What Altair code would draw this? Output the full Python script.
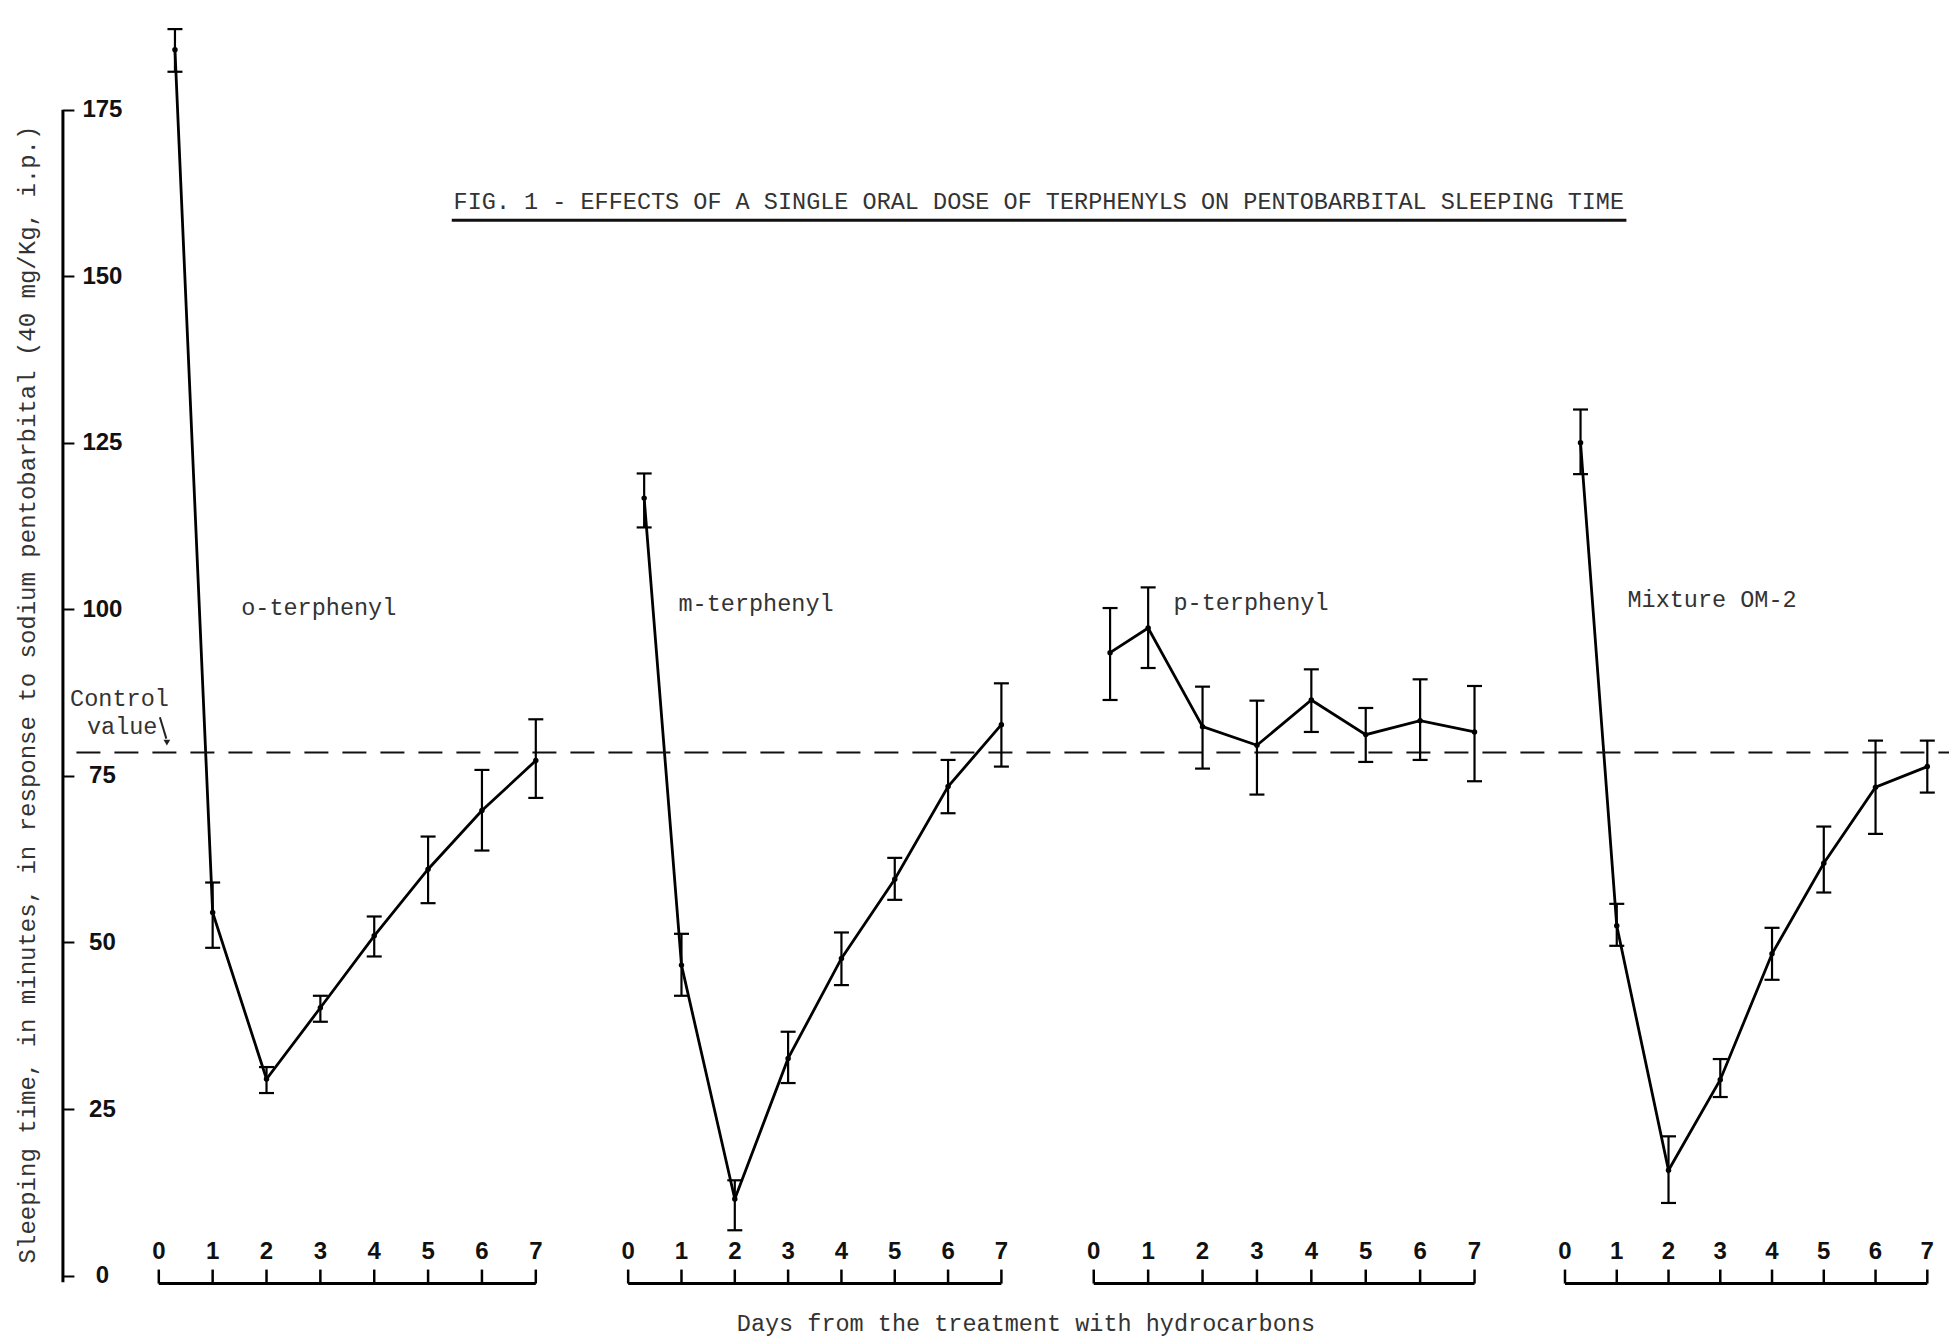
import altair as alt
import pandas as pd

# ---------------- data ----------------
panels = ["o-terphenyl", "m-terphenyl", "p-terphenyl", "Mixture OM-2"]
obs_days = [0.3, 1, 2, 3, 4, 5, 6, 7]
axis_days = [0, 1, 2, 3, 4, 5, 6, 7]

o_mean = [184.0, 54.5, 29.5, 40.2, 51.0, 61.0, 69.8, 77.3]
o_lo = [180.7, 49.2, 27.4, 38.1, 47.9, 55.9, 63.8, 71.7]
o_hi = [187.1, 59.0, 31.3, 42.0, 53.9, 65.9, 75.9, 83.5]

m_mean = [116.7, 46.6, 11.5, 32.6, 47.6, 59.5, 73.4, 82.7]
m_lo = [112.3, 42.0, 6.8, 28.9, 43.6, 56.4, 69.4, 76.4]
m_hi = [120.4, 51.3, 14.3, 36.6, 51.5, 62.7, 77.4, 88.9]

p_mean = [93.5, 97.2, 82.4, 79.6, 86.4, 81.2, 83.3, 81.6]
p_lo = [86.4, 91.2, 76.1, 72.2, 81.6, 77.1, 77.4, 74.2]
p_hi = [100.2, 103.3, 88.4, 86.3, 91.0, 85.2, 89.5, 88.5]

x_mean = [125.0, 52.5, 15.8, 29.4, 48.3, 61.9, 73.3, 76.4]
x_lo = [120.3, 49.5, 10.9, 26.8, 44.4, 57.5, 66.3, 72.5]
x_hi = [130.0, 55.8, 20.9, 32.5, 52.2, 67.4, 80.3, 80.3]

control_value = 78.5
y_ticks = [0, 25, 50, 75, 100, 125, 150, 175]

title_text = "FIG. 1 - EFFECTS OF A SINGLE ORAL DOSE OF TERPHENYLS ON PENTOBARBITAL SLEEPING TIME"
y_title = "Sleeping time, in minutes, in response to sodium pentobarbital (40 mg/Kg, i.p.)"
x_title = "Days from the treatment with hydrocarbons"

# ---------------- layout (panel placement on a shared day axis) ----------------
panel_offset = [0.0, 8.715, 17.36, 26.11]
panel_scale = [1.0, 0.99, 1.01, 0.961]

W, H = 1941, 1322
X_DOM = [-2.80, 33.24]
Y_DOM = [-8.17, 190.27]
xs = alt.Scale(domain=X_DOM, nice=False, zero=False)
ys = alt.Scale(domain=Y_DOM, nice=False, zero=False)

yaxis = alt.Axis(
    orient="right", offset=-1886.1, values=y_ticks, domain=False, grid=False,
    ticks=True, tickSize=11, tickWidth=2, tickColor="black",
    labelFont="Liberation Sans", labelFontSize=24, labelFontWeight="bold", labelColor="#111",
    labelAlign="center", labelBaseline="middle", labelPadding=28,
    title=y_title, titleFont="Liberation Mono", titleFontSize=24, titleFontWeight="normal",
    titleColor="#333", titleAngle=270, titleX=-35.4, titleY=686,
    titleAlign="center", titleBaseline="middle",
)


def X(f):
    return alt.X(f, type="quantitative", scale=xs, axis=None)


def Y(f):
    return alt.Y(f, type="quantitative", scale=ys, axis=yaxis, title=y_title)


series = [(o_mean, o_lo, o_hi), (m_mean, m_lo, m_hi), (p_mean, p_lo, p_hi), (x_mean, x_lo, x_hi)]
rows = []
for k, (mn, lo, hi) in enumerate(series):
    for d, a, b, c in zip(obs_days, mn, lo, hi):
        rows.append({"panel": panels[k], "day": d, "gx": panel_offset[k] + d * panel_scale[k],
                     "mean": a, "lo": b, "hi": c})
obs = pd.DataFrame(rows)

tick_rows, base_rows = [], []
for k in range(4):
    for d in axis_days:
        tick_rows.append({"panel": panels[k], "gx": panel_offset[k] + d * panel_scale[k],
                          "lab": str(d), "y0": -1.2, "y1": 0.9, "ylab": 3.5})
    base_rows.append({"panel": panels[k], "gx0": panel_offset[k],
                      "gx1": panel_offset[k] + 7 * panel_scale[k], "y": -1.2})
ticks = pd.DataFrame(tick_rows)
bases = pd.DataFrame(base_rows)

lines = alt.Chart(obs).mark_line(color="black", strokeWidth=2.8).encode(
    x=X("gx"), y=Y("mean"), detail="panel:N")
err = alt.Chart(obs).mark_rule(color="black", strokeWidth=2.2).encode(
    x=X("gx"), y=Y("lo"), y2="hi")
cap_lo = alt.Chart(obs).mark_tick(orient="horizontal", size=15, thickness=2.2, color="black", opacity=1).encode(
    x=X("gx"), y=Y("lo"))
cap_hi = alt.Chart(obs).mark_tick(orient="horizontal", size=15, thickness=2.2, color="black", opacity=1).encode(
    x=X("gx"), y=Y("hi"))
pts = alt.Chart(obs).mark_circle(size=30, color="black", opacity=1).encode(
    x=X("gx"), y=Y("mean"))

# y axis line
yline = alt.Chart(pd.DataFrame({"gx": [-1.78], "y0": [-1.0], "y1": [175.0]})).mark_rule(
    color="black", strokeWidth=3).encode(x=X("gx"), y=Y("y0"), y2="y1")

# day axes per panel
baselines = alt.Chart(bases).mark_rule(color="black", strokeWidth=3).encode(
    x=X("gx0"), x2="gx1", y=Y("y"))
tick_marks = alt.Chart(ticks).mark_rule(color="black", strokeWidth=2.5).encode(
    x=X("gx"), y=Y("y0"), y2="y1")
tick_labels = alt.Chart(ticks).mark_text(font="Liberation Sans", fontSize=24, fontWeight="bold",
                                         color="#111", baseline="middle", align="center").encode(
    x=X("gx"), y=Y("ylab"), text="lab:N")

# control value line
ctrl = alt.Chart(pd.DataFrame({"x0": [-1.53], "x1": [X_DOM[1]], "y": [control_value]})).mark_rule(
    color="#111", strokeWidth=2, strokeDash=[24, 14]).encode(x=X("x0"), x2="x1", y=Y("y"))

# texts
texts_df = pd.DataFrame({
    "gx": [2.97, 11.09, 20.28, 28.84, -0.73, -0.68, 16.1],
    "v": [100.2, 100.8, 101.0, 101.4, 86.5, 82.4, -7.3],
    "t": panels + ["Control", "value", x_title],
})
texts = alt.Chart(texts_df).mark_text(font="Liberation Mono", fontSize=23.5, color="#333",
                                      align="center", baseline="middle").encode(
    x=X("gx"), y=Y("v"), text="t:N")

# arrow of "Control value"
arrow = alt.Chart(pd.DataFrame({"x0": [0.02], "x1": [0.14], "y0": [83.8], "y1": [80.6]})).mark_rule(
    color="#222", strokeWidth=2).encode(x=X("x0"), x2="x1", y=Y("y0"), y2="y1")
arrow_head = alt.Chart(pd.DataFrame({"gx": [0.15], "v": [80.0]})).mark_point(
    shape="triangle-down", filled=True, size=45, color="#222", opacity=1).encode(x=X("gx"), y=Y("v"))

# figure title inside the plot, underlined
title_df = pd.DataFrame({"gx": [16.34], "v": [161.1], "t": [title_text]})
title = alt.Chart(title_df).mark_text(font="Liberation Mono", fontSize=23.5, color="#333",
                                      align="center", baseline="middle").encode(
    x=X("gx"), y=Y("v"), text="t:N")
underline = alt.Chart(pd.DataFrame({"x0": [5.44], "x1": [27.25], "y": [158.4]})).mark_rule(
    color="#111", strokeWidth=3).encode(x=X("x0"), x2="x1", y=Y("y"))

chart = alt.layer(
    lines, ctrl, err, cap_lo, cap_hi, pts, yline, baselines, tick_marks, tick_labels,
    texts, arrow, arrow_head, title, underline,
).properties(
    width=W, height=H,
    autosize=alt.AutoSizeParams(type="none"),
    padding={"left": 0, "top": 0, "right": 0, "bottom": 8},
    background="white",
).configure_view(stroke=None)

chart.save("out.html", embed_options={"renderer": "svg", "actions": False})
